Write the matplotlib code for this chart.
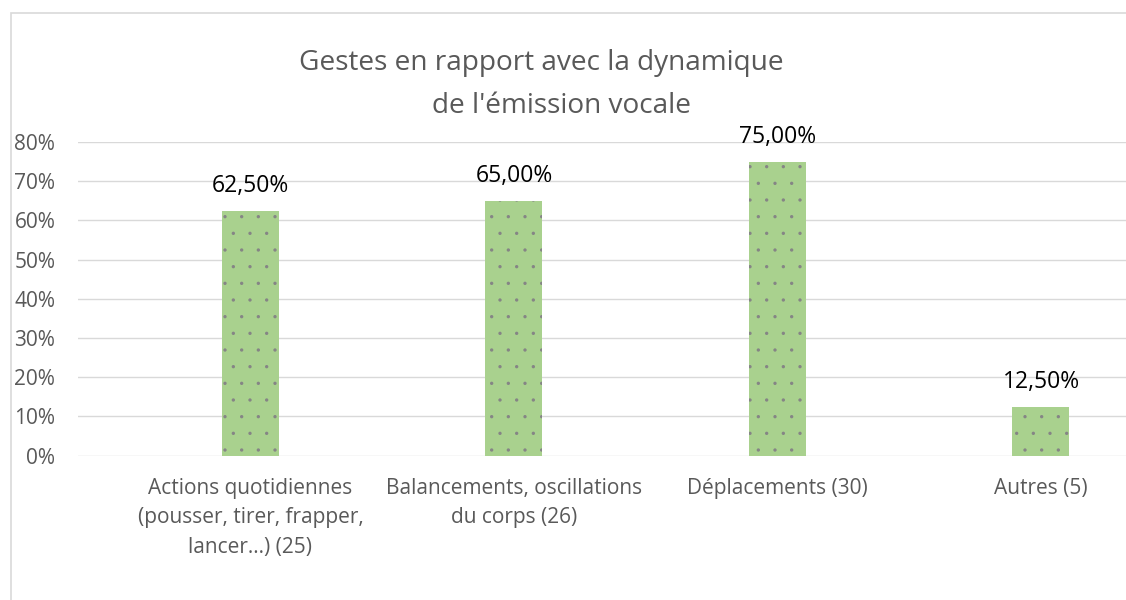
import matplotlib
matplotlib.use("Agg")
import matplotlib.pyplot as plt
from matplotlib.patches import Rectangle
from matplotlib.ticker import PercentFormatter

categories = [
    "Actions quotidiennes\n(pousser, tirer, frapper,\nlancer…) (25)",
    "Balancements, oscillations\ndu corps (26)",
    "Déplacements (30)",
    "Autres (5)",
]
values = [0.625, 0.65, 0.75, 0.125]
value_labels = ["62,50%", "65,00%", "75,00%", "12,50%"]
yticks = [0, 0.1, 0.2, 0.3, 0.4, 0.5, 0.6, 0.7, 0.8]
title_lines = ["Gestes en rapport avec la dynamique", "de l'émission vocale"]

FONT = ["Open Sans", "DejaVu Sans"]
GRAY = "#595959"
plt.rcParams["font.family"] = FONT
plt.rcParams["hatch.linewidth"] = 0.0

W, H = 1126, 600
fig = plt.figure(figsize=(W / 100, H / 100), dpi=100)

def fx(px):
    return px / W

def fy(py):
    return 1 - py / H

# chart border (extends beyond right/bottom)
fig.patches.append(Rectangle((fx(11), -0.1), 1.2, fy(13) + 0.1,
                             transform=fig.transFigure, fill=False,
                             edgecolor="#D9D9D9", linewidth=1.2))

ax = fig.add_axes([fx(77.5), fy(455.7), 1 - fx(77.5), fy(142) - fy(455.7)])
x = list(range(len(categories)))
bw = 57 / 263.5
bars = ax.bar(x, values, width=bw, color="#A9D18E", edgecolor="#858585",
              linewidth=0, hatch=".", zorder=2)
ax.set_xlim((77.5 - 250.5) / 263.5, (1126 - 250.5) / 263.5)
ax.set_ylim(0, 0.8)
ax.set_yticks(yticks)
ax.yaxis.set_major_formatter(PercentFormatter(1.0, decimals=0))
ax.grid(axis="y", color="#D9D9D9", linewidth=1.0, zorder=0)
ax.set_axisbelow(True)
for s in ax.spines.values():
    s.set_visible(False)
ax.tick_params(axis="y", length=0, pad=16, labelsize=15, labelcolor=GRAY)
ax.set_xticks(x)
ax.set_xticklabels(categories, fontsize=15, color=GRAY, linespacing=1.52)
ax.tick_params(axis="x", length=0, pad=16)

for b, v, lab in zip(bars, values, value_labels):
    ax.annotate(lab, (b.get_x() + b.get_width() / 2, v), xytext=(0, 13.7),
                textcoords="offset points", ha="center", va="baseline",
                fontsize=16.5, color="black", annotation_clip=False)

fig.text(fx(541), fy(70), title_lines[0], ha="center", va="baseline",
         fontsize=20.2, color=GRAY)
fig.text(fx(561), fy(113), title_lines[1], ha="center", va="baseline",
         fontsize=20.2, color=GRAY)

fig.savefig("out.png", dpi=100, facecolor="white")
